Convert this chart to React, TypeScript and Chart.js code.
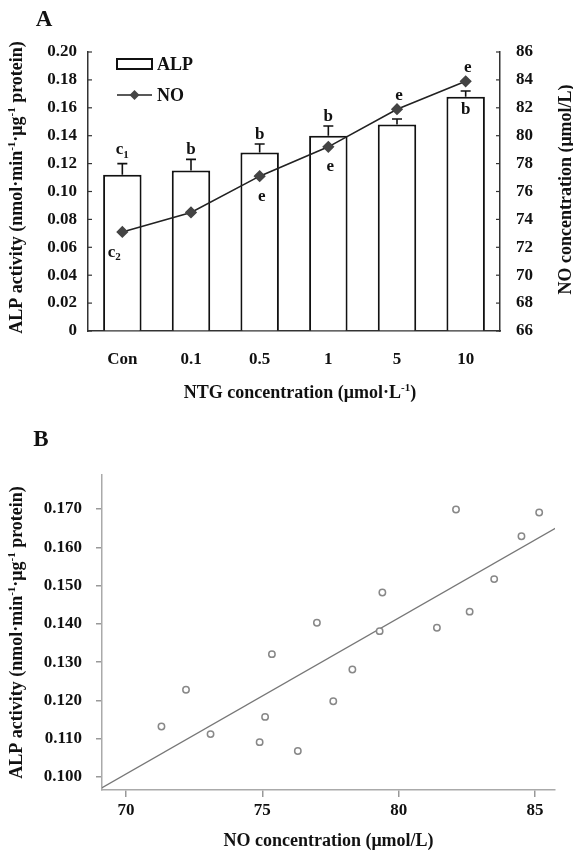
import React, { useEffect, useRef } from "react";
import { Chart, registerables } from "chart.js";
Chart.register(...registerables);

const FONT = '"Liberation Serif", "Times New Roman", Times, serif';
const INK = "#111";

// ---------- Panel A data ----------
const ntgCategories = ["Con", "0.1", "0.5", "1", "5", "10"];
const alpActivity = [0.112, 0.115, 0.128, 0.14, 0.148, 0.168];
const alpError = [0.008, 0.008, 0.006, 0.007, 0.004, 0.004];
const noConcentration = [73.1, 74.5, 77.1, 79.2, 81.9, 83.9];
const alpLetters = ["c1", "b", "b", "b", "", "b"];
const alpLetterPlace = ["above", "above", "above", "above", "", "inside"];
const noLetters = ["c2", "", "e", "e", "e", "e"];
const noLetterPlace = ["below", "", "below", "below", "above", "above"];
const leftTicksA = [0, 0.02, 0.04, 0.06, 0.08, 0.1, 0.12, 0.14, 0.16, 0.18, 0.2];
const rightTicksA = [66, 68, 70, 72, 74, 76, 78, 80, 82, 84, 86];

// ---------- Panel B data ----------
const scatterNO = [71.3, 72.2, 73.1, 74.9, 75.1, 75.35, 76.3, 77.0, 77.6, 78.3, 79.3, 79.4, 81.4, 82.1, 82.6, 83.5, 84.5, 85.15];
const scatterALP = [0.1132, 0.1228, 0.1112, 0.1091, 0.1157, 0.1321, 0.1068, 0.1403, 0.1198, 0.1281, 0.1381, 0.1482, 0.139, 0.1699, 0.1432, 0.1517, 0.1629, 0.1691];
const fitNO = [69.1, 85.75];
const fitALP = [0.0971, 0.165];
const yTicksB = [0.1, 0.11, 0.12, 0.13, 0.14, 0.15, 0.16, 0.17];
const xTicksB = [70, 75, 80, 85];

type Seg = { t: string; k?: "sup" | "sub" };

function drawRich(ctx: CanvasRenderingContext2D, segs: Seg[], x: number, y: number, size: number, rotate = false, align: "center" | "left" = "center") {
  ctx.save();
  ctx.translate(x, y);
  if (rotate) ctx.rotate(-Math.PI / 2);
  const fN = `bold ${size}px ${FONT}`;
  const fS = `bold ${Math.round(size * 0.62)}px ${FONT}`;
  let total = 0;
  const widths = segs.map((s) => {
    ctx.font = s.k ? fS : fN;
    const w = ctx.measureText(s.t).width;
    total += w;
    return w;
  });
  let cx = align === "center" ? -total / 2 : 0;
  ctx.textAlign = "left";
  ctx.textBaseline = "alphabetic";
  ctx.fillStyle = INK;
  const base = size * 0.33;
  segs.forEach((s, i) => {
    ctx.font = s.k ? fS : fN;
    const dy = s.k === "sup" ? -size * 0.38 : s.k === "sub" ? size * 0.22 : 0;
    ctx.fillText(s.t, cx, base + dy);
    cx += widths[i];
  });
  ctx.restore();
}

function letterSegs(l: string): Seg[] {
  if (l.length > 1) return [{ t: l[0] }, { t: l.slice(1), k: "sub" }];
  return [{ t: l }];
}

const alpTitle: Seg[] = [
  { t: "ALP activity (nmol·min" },
  { t: "-1", k: "sup" },
  { t: "·μg" },
  { t: "-1", k: "sup" },
  { t: " protein)" },
];

const tickFont = { family: FONT, size: 17, weight: "bold" as const };

const panelAPlugin = {
  id: "panelA",
  afterDatasetsDraw(chart: any) {
    const ctx = chart.ctx as CanvasRenderingContext2D;
    const y = chart.scales.y;
    const meta = chart.getDatasetMeta(0);
    ctx.save();
    ctx.strokeStyle = INK;
    ctx.lineWidth = 1.6;
    meta.data.forEach((bar: any, i: number) => {
      const top = y.getPixelForValue(alpActivity[i]);
      const et = y.getPixelForValue(alpActivity[i] + alpError[i]);
      ctx.beginPath();
      ctx.moveTo(bar.x, top);
      ctx.lineTo(bar.x, et);
      ctx.moveTo(bar.x - 5, et);
      ctx.lineTo(bar.x + 5, et);
      ctx.stroke();
    });
    ctx.restore();
  },
  afterDraw(chart: any) {
    const ctx = chart.ctx as CanvasRenderingContext2D;
    const { left, right, top, bottom } = chart.chartArea;
    const y = chart.scales.y;
    const y1 = chart.scales.y1;
    const xs = chart.scales.x;
    ctx.save();
    // inward ticks
    ctx.strokeStyle = "#333";
    ctx.lineWidth = 1.2;
    leftTicksA.forEach((v) => {
      const p = y.getPixelForValue(v);
      ctx.beginPath();
      ctx.moveTo(left, p);
      ctx.lineTo(left + 4, p);
      ctx.stroke();
    });
    rightTicksA.forEach((v) => {
      const p = y1.getPixelForValue(v);
      ctx.beginPath();
      ctx.moveTo(right - 4, p);
      ctx.lineTo(right, p);
      ctx.stroke();
    });
    // letters
    ntgCategories.forEach((_, i) => {
      const cx = xs.getPixelForValue(i);
      const la = alpLetters[i];
      if (la) {
        let py: number;
        if (alpLetterPlace[i] === "inside") py = y.getPixelForValue(alpActivity[i]) + 12;
        else py = y.getPixelForValue(alpActivity[i] + alpError[i]) - (la.length > 1 ? 15 : 11);
        drawRich(ctx, letterSegs(la), cx, py, 17);
      }
      const ln = noLetters[i];
      if (ln) {
        const pp = y1.getPixelForValue(noConcentration[i]);
        const py = noLetterPlace[i] === "above" ? pp - 15 : pp + 19;
        const dx = i === 0 ? -8 : 2;
        drawRich(ctx, letterSegs(ln), cx + dx, py, 17);
      }
    });
    // legend
    ctx.strokeStyle = INK;
    ctx.lineWidth = 2;
    ctx.fillStyle = "#fff";
    ctx.fillRect(117, 59, 35, 10);
    ctx.strokeRect(117, 59, 35, 10);
    drawRich(ctx, [{ t: "ALP" }], 157, 64, 18, false, "left");
    ctx.strokeStyle = "#222";
    ctx.lineWidth = 1.6;
    ctx.beginPath();
    ctx.moveTo(117, 95);
    ctx.lineTo(152, 95);
    ctx.stroke();
    ctx.fillStyle = "#444";
    ctx.beginPath();
    ctx.moveTo(134.5, 90);
    ctx.lineTo(139.5, 95);
    ctx.lineTo(134.5, 100);
    ctx.lineTo(129.5, 95);
    ctx.closePath();
    ctx.fill();
    drawRich(ctx, [{ t: "NO" }], 157, 95, 18, false, "left");
    // titles
    drawRich(ctx, alpTitle, 16, (top + bottom) / 2 - 4, 18, true);
    drawRich(ctx, [{ t: "NO concentration (μmol/L)" }], 565, (top + bottom) / 2 - 2, 18, true);
    drawRich(ctx, [{ t: "NTG concentration (μmol·L" }, { t: "-1", k: "sup" }, { t: ")" }], (left + right) / 2 + 6, 392, 18);
    drawRich(ctx, [{ t: "A" }], 44, 18, 23);
    ctx.restore();
  },
};

const panelBPlugin = {
  id: "panelB",
  afterDraw(chart: any) {
    const ctx = chart.ctx as CanvasRenderingContext2D;
    const { left, right, top, bottom } = chart.chartArea;
    drawRich(ctx, alpTitle, 16, (top + bottom) / 2, 18, true);
    drawRich(ctx, [{ t: "NO concentration (μmol/L)" }], (left + right) / 2, 420, 18);
    drawRich(ctx, [{ t: "B" }], 41, 18, 23);
  },
};

function PanelA() {
  const ref = useRef<HTMLCanvasElement>(null);
  useEffect(() => {
    const chart = new Chart(ref.current as HTMLCanvasElement, {
      type: "bar",
      data: {
        labels: ntgCategories,
        datasets: [
          {
            type: "bar",
            label: "ALP",
            data: alpActivity,
            backgroundColor: "#fff",
            borderColor: INK,
            borderWidth: 2,
            barPercentage: 0.56,
            categoryPercentage: 1,
            yAxisID: "y",
            order: 2,
          } as any,
          {
            type: "line",
            label: "NO",
            data: noConcentration,
            borderColor: "#222",
            borderWidth: 1.6,
            pointStyle: "rectRot",
            pointRadius: 5,
            pointBackgroundColor: "#444",
            pointBorderColor: "#444",
            yAxisID: "y1",
            order: 1,
            tension: 0,
          } as any,
        ],
      },
      options: {
        responsive: false,
        animation: false,
        layout: { padding: { top: 52, left: 0, right: 0, bottom: 0 } },
        plugins: { legend: { display: false }, tooltip: { enabled: false } },
        scales: {
          x: {
            grid: { display: true, drawOnChartArea: false, drawTicks: false },
            border: { color: "#333", width: 1.5 },
            ticks: { font: tickFont, color: INK, padding: 18 },
            afterFit: (s: any) => {
              s.height = 79;
            },
          },
          y: {
            position: "left",
            min: 0,
            max: 0.2,
            afterBuildTicks: (s: any) => {
              s.ticks = leftTicksA.map((v) => ({ value: v }));
            },
            ticks: {
              font: tickFont,
              color: INK,
              padding: 11,
              callback: (v: any) => (Number(v) === 0 ? "0" : Number(v).toFixed(2)),
            },
            grid: { display: true, drawOnChartArea: false, drawTicks: false },
            border: { color: "#333", width: 1.5 },
            afterFit: (s: any) => {
              s.width = 88;
            },
          },
          y1: {
            position: "right",
            min: 66,
            max: 86,
            afterBuildTicks: (s: any) => {
              s.ticks = rightTicksA.map((v) => ({ value: v }));
            },
            ticks: { font: tickFont, color: INK, padding: 16, callback: (v: any) => String(v) },
            grid: { display: true, drawOnChartArea: false, drawTicks: false },
            border: { color: "#333", width: 1.5 },
            afterFit: (s: any) => {
              s.width = 73;
            },
          },
        },
      } as any,
      plugins: [panelAPlugin],
    });
    return () => chart.destroy();
  }, []);
  return <canvas ref={ref} width={573} height={410} style={{ position: "absolute", left: 0, top: 0, width: 573, height: 410 }} />;
}

function PanelB() {
  const ref = useRef<HTMLCanvasElement>(null);
  useEffect(() => {
    const chart = new Chart(ref.current as HTMLCanvasElement, {
      type: "scatter",
      data: {
        datasets: [
          {
            type: "line",
            label: "fit",
            data: fitNO.map((x, i) => ({ x, y: fitALP[i] })),
            borderColor: "#777",
            borderWidth: 1.3,
            pointRadius: 0,
            order: 2,
          } as any,
          {
            type: "scatter",
            label: "samples",
            data: scatterNO.map((x, i) => ({ x, y: scatterALP[i] })),
            pointRadius: 3.2,
            pointBorderWidth: 1.5,
            pointBackgroundColor: "#fff",
            pointBorderColor: "#888",
            order: 1,
          } as any,
        ],
      },
      options: {
        responsive: false,
        animation: false,
        layout: { padding: { top: 55, left: 0, right: 18, bottom: 0 } },
        plugins: { legend: { display: false }, tooltip: { enabled: false } },
        scales: {
          x: {
            type: "linear",
            min: 69.12,
            max: 85.73,
            afterBuildTicks: (s: any) => {
              s.ticks = xTicksB.map((v) => ({ value: v }));
            },
            ticks: { font: tickFont, color: INK, padding: 3, callback: (v: any) => String(v) },
            grid: { display: true, drawOnChartArea: false, drawTicks: true, tickLength: 7, color: "#999", lineWidth: 1.5 },
            border: { color: "#aaa", width: 1.5 },
            afterFit: (s: any) => {
              s.height = 70;
            },
          },
          y: {
            type: "linear",
            min: 0.0966,
            max: 0.1789,
            afterBuildTicks: (s: any) => {
              s.ticks = yTicksB.map((v) => ({ value: v }));
            },
            ticks: { font: tickFont, color: INK, padding: 14, callback: (v: any) => Number(v).toFixed(3) },
            grid: { display: true, drawOnChartArea: false, drawTicks: true, tickLength: 6, color: "#999", lineWidth: 1.5 },
            border: { color: "#aaa", width: 1.5 },
            afterFit: (s: any) => {
              s.width = 102;
            },
          },
        },
      } as any,
      plugins: [panelBPlugin],
    });
    return () => chart.destroy();
  }, []);
  return <canvas ref={ref} width={573} height={440} style={{ position: "absolute", left: 0, top: 420, width: 573, height: 440 }} />;
}

export default function App() {
  return (
    <div style={{ position: "absolute", left: 0, top: 0, width: 573, height: 860, background: "#fff" }}>
      <PanelA />
      <PanelB />
    </div>
  );
}
